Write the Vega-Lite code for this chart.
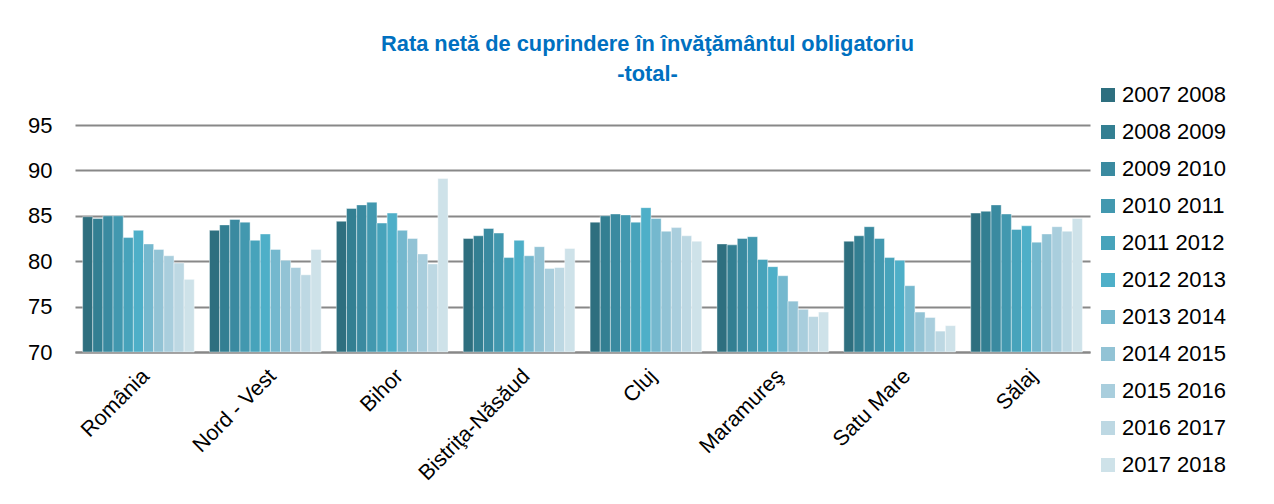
{
  "$schema": "https://vega.github.io/schema/vega-lite/v6.json",
  "autosize": {"type": "none"},
  "padding": {"left": 75, "top": 125, "right": 184, "bottom": 152},
  "width": 1015,
  "height": 227,
  "background": "#ffffff",
  "title": {
    "text": ["Rata netă de cuprindere în învăţământul obligatoriu", "-total-"],
    "color": "#0070C0",
    "font": "Liberation Sans Narrow, Liberation Sans",
    "fontSize": 21.8,
    "fontWeight": "bold",
    "anchor": "middle",
    "dx": 65,
    "offset": -2,
    "lineHeight": 30
  },
  "config": {
    "view": {"stroke": null},
    "font": "Liberation Sans Narrow, Liberation Sans"
  },
  "data": {
    "values": [
      {"judet": "România", "an": "2007 2008", "v": 84.9},
      {"judet": "România", "an": "2008 2009", "v": 84.7},
      {"judet": "România", "an": "2009 2010", "v": 85.0},
      {"judet": "România", "an": "2010 2011", "v": 85.0},
      {"judet": "România", "an": "2011 2012", "v": 82.6},
      {"judet": "România", "an": "2012 2013", "v": 83.4},
      {"judet": "România", "an": "2013 2014", "v": 81.9},
      {"judet": "România", "an": "2014 2015", "v": 81.3},
      {"judet": "România", "an": "2015 2016", "v": 80.6},
      {"judet": "România", "an": "2016 2017", "v": 79.8},
      {"judet": "România", "an": "2017 2018", "v": 78.0},
      {"judet": "Nord - Vest", "an": "2007 2008", "v": 83.4},
      {"judet": "Nord - Vest", "an": "2008 2009", "v": 84.0},
      {"judet": "Nord - Vest", "an": "2009 2010", "v": 84.6},
      {"judet": "Nord - Vest", "an": "2010 2011", "v": 84.3},
      {"judet": "Nord - Vest", "an": "2011 2012", "v": 82.3},
      {"judet": "Nord - Vest", "an": "2012 2013", "v": 83.0},
      {"judet": "Nord - Vest", "an": "2013 2014", "v": 81.3},
      {"judet": "Nord - Vest", "an": "2014 2015", "v": 80.1},
      {"judet": "Nord - Vest", "an": "2015 2016", "v": 79.3},
      {"judet": "Nord - Vest", "an": "2016 2017", "v": 78.5},
      {"judet": "Nord - Vest", "an": "2017 2018", "v": 81.3},
      {"judet": "Bihor", "an": "2007 2008", "v": 84.4},
      {"judet": "Bihor", "an": "2008 2009", "v": 85.8},
      {"judet": "Bihor", "an": "2009 2010", "v": 86.2},
      {"judet": "Bihor", "an": "2010 2011", "v": 86.5},
      {"judet": "Bihor", "an": "2011 2012", "v": 84.2},
      {"judet": "Bihor", "an": "2012 2013", "v": 85.3},
      {"judet": "Bihor", "an": "2013 2014", "v": 83.4},
      {"judet": "Bihor", "an": "2014 2015", "v": 82.5},
      {"judet": "Bihor", "an": "2015 2016", "v": 80.8},
      {"judet": "Bihor", "an": "2016 2017", "v": 79.7},
      {"judet": "Bihor", "an": "2017 2018", "v": 89.1},
      {"judet": "Bistriţa-Năsăud", "an": "2007 2008", "v": 82.5},
      {"judet": "Bistriţa-Năsăud", "an": "2008 2009", "v": 82.8},
      {"judet": "Bistriţa-Năsăud", "an": "2009 2010", "v": 83.6},
      {"judet": "Bistriţa-Năsăud", "an": "2010 2011", "v": 83.1},
      {"judet": "Bistriţa-Năsăud", "an": "2011 2012", "v": 80.4},
      {"judet": "Bistriţa-Năsăud", "an": "2012 2013", "v": 82.3},
      {"judet": "Bistriţa-Năsăud", "an": "2013 2014", "v": 80.6},
      {"judet": "Bistriţa-Năsăud", "an": "2014 2015", "v": 81.6},
      {"judet": "Bistriţa-Năsăud", "an": "2015 2016", "v": 79.2},
      {"judet": "Bistriţa-Năsăud", "an": "2016 2017", "v": 79.3},
      {"judet": "Bistriţa-Năsăud", "an": "2017 2018", "v": 81.4},
      {"judet": "Cluj", "an": "2007 2008", "v": 84.3},
      {"judet": "Cluj", "an": "2008 2009", "v": 85.0},
      {"judet": "Cluj", "an": "2009 2010", "v": 85.2},
      {"judet": "Cluj", "an": "2010 2011", "v": 85.1},
      {"judet": "Cluj", "an": "2011 2012", "v": 84.3},
      {"judet": "Cluj", "an": "2012 2013", "v": 85.9},
      {"judet": "Cluj", "an": "2013 2014", "v": 84.7},
      {"judet": "Cluj", "an": "2014 2015", "v": 83.3},
      {"judet": "Cluj", "an": "2015 2016", "v": 83.7},
      {"judet": "Cluj", "an": "2016 2017", "v": 82.8},
      {"judet": "Cluj", "an": "2017 2018", "v": 82.2},
      {"judet": "Maramureş", "an": "2007 2008", "v": 81.9},
      {"judet": "Maramureş", "an": "2008 2009", "v": 81.8},
      {"judet": "Maramureş", "an": "2009 2010", "v": 82.5},
      {"judet": "Maramureş", "an": "2010 2011", "v": 82.7},
      {"judet": "Maramureş", "an": "2011 2012", "v": 80.2},
      {"judet": "Maramureş", "an": "2012 2013", "v": 79.4},
      {"judet": "Maramureş", "an": "2013 2014", "v": 78.4},
      {"judet": "Maramureş", "an": "2014 2015", "v": 75.6},
      {"judet": "Maramureş", "an": "2015 2016", "v": 74.7},
      {"judet": "Maramureş", "an": "2016 2017", "v": 73.9},
      {"judet": "Maramureş", "an": "2017 2018", "v": 74.4},
      {"judet": "Satu Mare", "an": "2007 2008", "v": 82.2},
      {"judet": "Satu Mare", "an": "2008 2009", "v": 82.8},
      {"judet": "Satu Mare", "an": "2009 2010", "v": 83.8},
      {"judet": "Satu Mare", "an": "2010 2011", "v": 82.5},
      {"judet": "Satu Mare", "an": "2011 2012", "v": 80.4},
      {"judet": "Satu Mare", "an": "2012 2013", "v": 80.1},
      {"judet": "Satu Mare", "an": "2013 2014", "v": 77.3},
      {"judet": "Satu Mare", "an": "2014 2015", "v": 74.4},
      {"judet": "Satu Mare", "an": "2015 2016", "v": 73.8},
      {"judet": "Satu Mare", "an": "2016 2017", "v": 72.3},
      {"judet": "Satu Mare", "an": "2017 2018", "v": 72.9},
      {"judet": "Sălaj", "an": "2007 2008", "v": 85.3},
      {"judet": "Sălaj", "an": "2008 2009", "v": 85.5},
      {"judet": "Sălaj", "an": "2009 2010", "v": 86.2},
      {"judet": "Sălaj", "an": "2010 2011", "v": 85.2},
      {"judet": "Sălaj", "an": "2011 2012", "v": 83.5},
      {"judet": "Sălaj", "an": "2012 2013", "v": 83.9},
      {"judet": "Sălaj", "an": "2013 2014", "v": 82.1},
      {"judet": "Sălaj", "an": "2014 2015", "v": 83.0},
      {"judet": "Sălaj", "an": "2015 2016", "v": 83.8},
      {"judet": "Sălaj", "an": "2016 2017", "v": 83.3},
      {"judet": "Sălaj", "an": "2017 2018", "v": 84.7}
    ]
  },
  "mark": {"type": "bar", "stroke": "#ffffff", "strokeWidth": 0.6, "strokeOpacity": 0.7},
  "encoding": {
    "x": {
      "field": "judet",
      "type": "nominal",
      "sort": null,
      "scale": {"paddingInner": 0.12, "paddingOuter": 0.06},
      "axis": {
        "title": null,
        "labelAngle": -45,
        "labelFontSize": 21.5,
        "labelColor": "#000000",
        "ticks": false,
        "labelPadding": 13,
        "domainColor": "#888888",
        "domainWidth": 2
      }
    },
    "xOffset": {"field": "an", "type": "nominal", "sort": null, "scale": {"paddingInner": 0, "paddingOuter": 0}},
    "y": {
      "field": "v",
      "type": "quantitative",
      "scale": {"domain": [70, 95], "zero": false, "nice": false},
      "axis": {
        "title": null,
        "values": [70, 75, 80, 85, 90, 95],
        "domain": false,
        "ticks": false,
        "labelFontSize": 22,
        "labelColor": "#000000",
        "labelPadding": 23,
        "gridColor": "#888888",
        "gridWidth": 2
      }
    },
    "y2": {"datum": 70},
    "color": {
      "field": "an",
      "type": "nominal",
      "sort": null,
      "scale": {
        "range": ["#2E6F7F", "#337F92", "#3A8AA0", "#4298AF", "#47A3BB", "#4EAFC8", "#74B8CE", "#92C3D5", "#A9CEDD", "#BDD8E3", "#CEE2E9"]
      },
      "legend": {
        "title": null,
        "orient": "none",
        "legendX": 1022,
        "legendY": -41,
        "symbolType": "square",
        "symbolSize": 196,
        "symbolStrokeWidth": 0,
        "labelFontSize": 22,
        "labelColor": "#000000",
        "labelOffset": 3,
        "rowPadding": 15
      }
    }
  }
}
